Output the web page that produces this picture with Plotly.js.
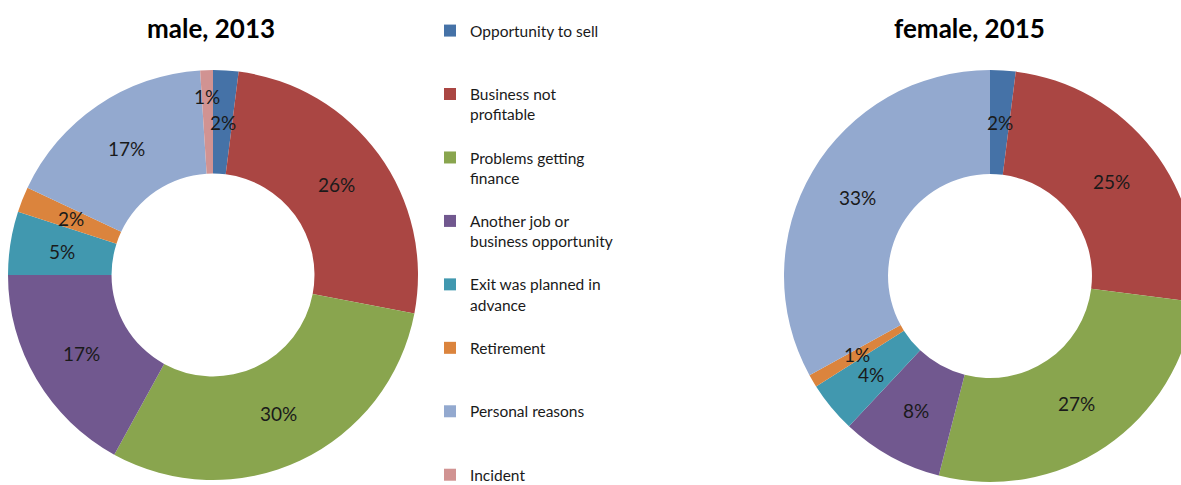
<!DOCTYPE html>
<html>
<head>
<meta charset="utf-8">
<script src="https://cdn.plot.ly/plotly-3.0.1.min.js"></script>
<style>
  html, body { margin: 0; padding: 0; overflow: hidden; background: #fff; }
  #chart { width: 1200px; height: 560px; }
</style>
</head>
<body>
<div id="chart"></div>
<script>
// ---------- data ----------
const categories = [
  "Opportunity to sell",
  "Business not<br>profitable",
  "Problems getting<br>finance",
  "Another job or<br>business opportunity",
  "Exit was planned in<br>advance",
  "Retirement",
  "Personal reasons",
  "Incident"
];
const maleTitle = "male, 2013";
const femaleTitle = "female, 2015";
const male2013 = [2, 26, 30, 17, 5, 2, 17, 1];
const female2015 = [2, 25, 27, 8, 4, 1, 33, 0];
const colors = ["#4572A7", "#AA4643", "#89A54E", "#71588F", "#4198AF", "#DB843D", "#93A9CF", "#D19392"];

// ---------- layout constants ----------
// the drawing is slightly larger than the 1181x485 window; the overflow is clipped
const W = 1200, H = 560;
const FONT = "Lato, 'Open Sans', sans-serif";
const pies = [
  { name: maleTitle, values: male2013, cx: 213, cy: 275, R: 205, titleX: 211, nudge: {7: 25} },
  { name: femaleTitle, values: female2015, cx: 990, cy: 276, R: 206, titleX: 969, nudge: {} }
];
const HOLE = 0.495;

// pad legend labels to 3 lines so entries are evenly spaced
const legendLabels = categories.map(c => {
  const n = c.split("<br>").length;
  let s = c;
  for (let i = n; i < 3; i++) s += "<br>\u00a0";
  return s;
});

const traces = [];
const annotations = [];
pies.forEach((p, k) => {
  traces.push({
    type: "pie",
    labels: legendLabels,
    values: p.values,
    hole: HOLE,
    sort: false,
    direction: "clockwise",
    rotation: 0,
    marker: { colors: colors, line: { width: 0 } },
    textinfo: "none",
    hoverinfo: "label+percent",
    showlegend: k === 0,
    domain: {
      x: [(p.cx - p.R) / W, (p.cx + p.R) / W],
      y: [1 - (p.cy + p.R) / H, 1 - (p.cy - p.R) / H]
    }
  });
  // data labels at the middle of the ring
  const total = p.values.reduce((a, b) => a + b, 0);
  const rm = p.R * (1 + HOLE) / 2;
  let cum = 0;
  p.values.forEach((v, i) => {
    const mid = (cum + v / 2) / total * 2 * Math.PI;
    cum += v;
    if (v <= 0) return;
    const r = rm + (p.nudge[i] || 0);
    const px = p.cx + r * Math.sin(mid);
    const py = p.cy - r * Math.cos(mid);
    annotations.push({
      xref: "paper", yref: "paper",
      x: px / W, y: 1 - py / H,
      xanchor: "center", yanchor: "middle",
      text: Math.round(v / total * 100) + "%",
      showarrow: false,
      font: { family: FONT, size: 19, color: "#1a1a1a" }
    });
  });
  annotations.push({
    xref: "paper", yref: "paper",
    x: p.titleX / W, y: 1 - 28 / H,
    xanchor: "center", yanchor: "middle",
    text: "<b>" + p.name + "</b>",
    showarrow: false,
    font: { family: FONT, size: 26, color: "#000" }
  });
});

const layout = {
  width: W, height: H,
  margin: { l: 0, r: 0, t: 0, b: 0 },
  paper_bgcolor: "#fff",
  showlegend: true,
  legend: {
    x: 430 / W, xanchor: "left",
    y: 1 - 14 / H, yanchor: "top",
    valign: "top",
    font: { family: FONT, size: 15.5, color: "#1a1a1a" },
    bgcolor: "rgba(0,0,0,0)",
    traceorder: "normal"
  },
  annotations: annotations
};

Plotly.newPlot("chart", traces, layout, { displayModeBar: false, staticPlot: true });
</script>
</body>
</html>
